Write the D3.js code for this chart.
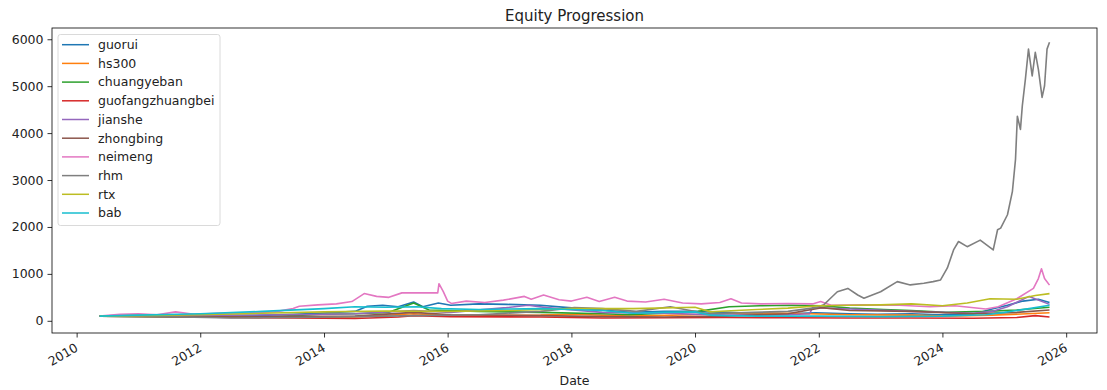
<!DOCTYPE html>
<html>

<head>
    <title>Equity Progression</title>
    <script src="https://d3js.org/d3.v7.min.js"></script>
    <style>
        body { margin: 0; background: white; }
        text { font-family: "DejaVu Sans", sans-serif; fill: #222; }
    </style>
</head>

<body>
    <div id="chart"></div>
    <script>
        // DATA (decimal year, equity value)

        var seriesNames = ['guorui', 'hs300', 'chuangyeban', 'guofangzhuangbei', 'jianshe',
            'zhongbing', 'neimeng', 'rhm', 'rtx', 'bab']

        var guorui = [[2010.37, 100], [2010.9, 120], [2011.5, 110], [2011.9, 95], [2012.5, 100], [2012.9, 110],
            [2013.5, 140], [2013.9, 160], [2014.5, 200], [2014.7, 310], [2014.95, 330], [2015.2, 300],
            [2015.45, 400], [2015.6, 300], [2015.85, 380], [2016.05, 330], [2016.5, 360], [2016.95, 350],
            [2017.5, 330], [2017.95, 280], [2018.5, 230], [2018.95, 180], [2019.5, 200], [2019.95, 200],
            [2020.5, 180], [2020.95, 160], [2021.5, 150], [2021.95, 170], [2022.5, 150], [2022.95, 140],
            [2023.5, 150], [2023.95, 130], [2024.5, 140], [2024.8, 250], [2025.05, 330], [2025.3, 420],
            [2025.55, 460], [2025.73, 390]]

        var hs300 = [[2010.37, 100], [2011.5, 95], [2012.5, 80], [2013.5, 75], [2014.5, 80], [2015.45, 150],
            [2016.05, 110], [2017.5, 120], [2018.05, 140], [2018.95, 100], [2019.95, 130], [2020.95, 170],
            [2021.5, 160], [2022.5, 130], [2023.5, 120], [2024.05, 100], [2024.8, 120], [2025.73, 170]]

        var chuangyeban = [[2010.37, 100], [2011.5, 90], [2012.5, 75], [2012.95, 70], [2013.5, 110], [2013.95, 140],
            [2014.5, 150], [2015.05, 180], [2015.45, 380], [2015.7, 230], [2016.5, 200], [2017.5, 180],
            [2018.5, 150], [2018.95, 130], [2019.5, 160], [2020.05, 200], [2020.55, 300], [2021.05, 320],
            [2021.55, 330], [2022.05, 320], [2022.5, 270], [2023.05, 240], [2023.5, 220], [2024.05, 180],
            [2024.7, 200], [2025.2, 230], [2025.73, 290]]

        var guofangzhuangbei = [[2010.37, 100], [2011.5, 95], [2012.5, 70], [2013.5, 60], [2014.5, 50], [2015.2, 80],
            [2015.45, 110], [2016.05, 90], [2017.5, 80], [2018.5, 60], [2019.5, 65], [2020.5, 70],
            [2021.5, 65], [2022.5, 60], [2023.5, 60], [2024.5, 55], [2025.2, 70], [2025.5, 110], [2025.73, 80]]

        var jianshe = [[2010.37, 100], [2011.5, 110], [2012.5, 120], [2013.5, 130], [2014.5, 150], [2015.45, 220],
            [2016.05, 180], [2016.95, 280], [2017.3, 330], [2017.6, 280], [2018.5, 180], [2019.5, 160],
            [2020.5, 120], [2021.5, 130], [2021.85, 150], [2021.9, 280], [2022.5, 250], [2023.5, 200],
            [2024.5, 160], [2024.8, 200], [2025.05, 300], [2025.4, 520], [2025.73, 350]]

        var zhongbing = [[2010.37, 100], [2011.5, 90], [2012.5, 80], [2013.5, 90], [2014.5, 100], [2015.45, 180],
            [2016.05, 130], [2017.5, 110], [2018.5, 90], [2019.5, 80], [2020.5, 100], [2021.5, 150],
            [2022.05, 280], [2022.5, 220], [2023.5, 200], [2024.5, 150], [2025.2, 180], [2025.73, 230]]

        var neimeng = [[2010.37, 100], [2010.7, 140], [2011.0, 150], [2011.3, 130], [2011.6, 190], [2011.9, 140],
            [2012.3, 160], [2012.8, 170], [2013.2, 190], [2013.5, 260], [2013.6, 310], [2013.9, 340],
            [2014.2, 360], [2014.45, 410], [2014.65, 580], [2014.85, 520], [2015.05, 500], [2015.26, 595],
            [2015.84, 595], [2015.86, 790], [2015.93, 620], [2016.0, 420], [2016.06, 370], [2016.3, 420],
            [2016.6, 390], [2016.9, 440], [2017.24, 520], [2017.35, 460], [2017.55, 550], [2017.8, 450],
            [2018.0, 420], [2018.25, 500], [2018.45, 410], [2018.7, 500], [2018.9, 420], [2019.2, 400],
            [2019.5, 460], [2019.8, 380], [2020.1, 360], [2020.4, 390], [2020.58, 470], [2020.75, 380],
            [2021.06, 360], [2021.5, 370], [2021.9, 360], [2022.03, 410], [2022.2, 330], [2022.7, 340],
            [2023.3, 330], [2023.8, 300], [2024.2, 320], [2024.7, 250], [2024.9, 300], [2025.2, 470],
            [2025.47, 690], [2025.55, 900], [2025.6, 1110], [2025.65, 900], [2025.73, 760]]

        var rhm = [[2010.37, 100], [2011.5, 90], [2012.5, 60], [2013.5, 70], [2014.5, 90], [2015.5, 110],
            [2016.5, 130], [2017.5, 200], [2018.05, 280], [2018.5, 260], [2019.05, 200], [2019.6, 300],
            [2020.2, 150], [2020.95, 180], [2021.5, 200], [2021.95, 280], [2022.08, 340], [2022.19, 480],
            [2022.3, 620], [2022.47, 690], [2022.63, 550], [2022.73, 480], [2023.0, 620], [2023.27, 835],
            [2023.48, 765], [2023.7, 800], [2023.85, 835], [2023.97, 870], [2024.08, 1127], [2024.18, 1510],
            [2024.26, 1690], [2024.4, 1580], [2024.61, 1720], [2024.82, 1510], [2024.89, 1940], [2024.94, 1975],
            [2025.05, 2260], [2025.13, 2760], [2025.18, 3440], [2025.21, 4360], [2025.26, 4080], [2025.29, 4580],
            [2025.34, 5150], [2025.39, 5790], [2025.45, 5220], [2025.5, 5720], [2025.55, 5360], [2025.61, 4760],
            [2025.65, 5010], [2025.69, 5790], [2025.73, 5935]]

        var rtx = [[2010.37, 100], [2011, 110], [2012, 130], [2013, 160], [2014, 190], [2015, 210], [2016, 200],
            [2017, 220], [2018, 260], [2019, 260], [2020.0, 290], [2020.25, 190], [2020.5, 210], [2021, 240],
            [2021.5, 270], [2022, 320], [2022.5, 330], [2023, 340], [2023.5, 360], [2024, 320], [2024.4, 380],
            [2024.77, 470], [2025.2, 460], [2025.5, 540], [2025.73, 580]]

        var bab = [[2010.37, 100], [2011, 120], [2012, 150], [2013, 200], [2014, 260], [2014.5, 300], [2015, 290],
            [2015.5, 300], [2015.9, 260], [2016.5, 240], [2017, 250], [2017.5, 260], [2018, 240], [2018.5, 220],
            [2019, 160], [2019.5, 180], [2020, 190], [2020.25, 120], [2020.5, 110], [2021, 100], [2022, 100],
            [2023, 90], [2024, 100], [2024.7, 130], [2025.0, 180], [2025.4, 260], [2025.73, 330]]

        var seriesValues = [guorui, hs300, chuangyeban, guofangzhuangbei, jianshe, zhongbing, neimeng, rhm, rtx, bab]
        var yTicks = [0, 1000, 2000, 3000, 4000, 5000, 6000]
        var xTickYears = [2010, 2012, 2014, 2016, 2018, 2020, 2022, 2024, 2026]

        // GENERAL SETUP

        var width = 1107
        var height = 390
        var margin = { left: 52, top: 28, right: 10, bottom: 57 }
        var colors = d3.schemeCategory10

        function yearToDate(y) {
            var yr = Math.floor(y)
            var start = new Date(yr, 0, 1)
            var end = new Date(yr + 1, 0, 1)
            return new Date(+start + (y - yr) * (end - start))
        }

        var svg = d3.select('#chart').append('svg')
            .attr('width', width)
            .attr('height', height)

        // x domain padded by 5% like the plotting default
        var allDates = seriesValues.flat().map(d => yearToDate(d[0]))
        var xExt = d3.extent(allDates)
        var xPad = (xExt[1] - xExt[0]) * 0.05
        var x = d3.scaleTime()
            .domain([new Date(+xExt[0] - xPad), new Date(+xExt[1] + xPad)])
            .range([margin.left, width - margin.right])
        var y = d3.scaleLinear()
            .domain([-260, 6240])
            .range([height - margin.bottom, margin.top])

        // AXES

        var xAxis = svg.append('g')
            .attr('transform', 'translate(0,' + (height - margin.bottom) + ')')
            .call(d3.axisBottom(x).tickValues(xTickYears.map(yr => new Date(yr, 0, 1)))
                .tickFormat(d3.timeFormat('%Y')).tickSize(4.5).tickPadding(3))
        xAxis.select('.domain').remove()
        xAxis.selectAll('line').attr('stroke', '#000').attr('stroke-width', 0.8)
        xAxis.selectAll('text')
            .style('font-size', '12.5px')
            .attr('text-anchor', 'end')
            .attr('dy', null)
            .attr('y', 0)
            .attr('dominant-baseline', 'hanging')
            .attr('transform', 'translate(-3,9) rotate(-30)')

        var yAxis = svg.append('g')
            .attr('transform', 'translate(' + margin.left + ',0)')
            .call(d3.axisLeft(y).tickValues(yTicks).tickFormat(d3.format('d')).tickSize(4.5).tickPadding(4))
        yAxis.select('.domain').remove()
        yAxis.selectAll('line').attr('stroke', '#000').attr('stroke-width', 0.8)
        yAxis.selectAll('text').style('font-size', '12.5px')

        // LINES

        svg.append('clipPath').attr('id', 'plotClip')
            .append('rect')
            .attr('x', margin.left).attr('y', margin.top)
            .attr('width', width - margin.left - margin.right)
            .attr('height', height - margin.top - margin.bottom)

        var line = d3.line()
            .x(d => x(yearToDate(d[0])))
            .y(d => y(d[1]))

        svg.append('g').attr('clip-path', 'url(#plotClip)')
            .selectAll('path')
            .data(seriesValues)
            .join('path')
            .attr('d', line)
            .attr('fill', 'none')
            .attr('stroke', (d, i) => colors[i])
            .attr('stroke-width', 1.6)
            .attr('stroke-linejoin', 'round')

        // frame
        svg.append('rect')
            .attr('x', margin.left).attr('y', margin.top)
            .attr('width', width - margin.left - margin.right)
            .attr('height', height - margin.top - margin.bottom)
            .attr('fill', 'none')
            .attr('stroke', '#000')
            .attr('stroke-width', 0.8)

        // TITLE AND LABELS

        svg.append('text')
            .attr('x', (margin.left + width - margin.right) / 2)
            .attr('y', 21)
            .attr('text-anchor', 'middle')
            .style('font-size', '15px')
            .text('Equity Progression')

        svg.append('text')
            .attr('x', (margin.left + width - margin.right) / 2)
            .attr('y', 385)
            .attr('text-anchor', 'middle')
            .style('font-size', '12.5px')
            .text('Date')

        // LEGEND

        var legend = svg.append('g').attr('transform', 'translate(58,34.5)')
        legend.append('rect')
            .attr('width', 162)
            .attr('height', 191)
            .attr('rx', 2.5)
            .attr('fill', 'white')
            .attr('fill-opacity', 0.8)
            .attr('stroke', '#d0d0d0')
            .attr('stroke-width', 0.8)
        var items = legend.selectAll('g.item')
            .data(seriesNames)
            .join('g')
            .attr('class', 'item')
            .attr('transform', (d, i) => 'translate(0,' + (10.2 + i * 18.7) + ')')
        items.append('line')
            .attr('x1', 4).attr('x2', 31)
            .attr('stroke', (d, i) => colors[i])
            .attr('stroke-width', 1.5)
        items.append('text')
            .attr('x', 40)
            .attr('dy', '0.35em')
            .style('font-size', '12.5px')
            .text(d => d)
    </script>
</body>

</html>
